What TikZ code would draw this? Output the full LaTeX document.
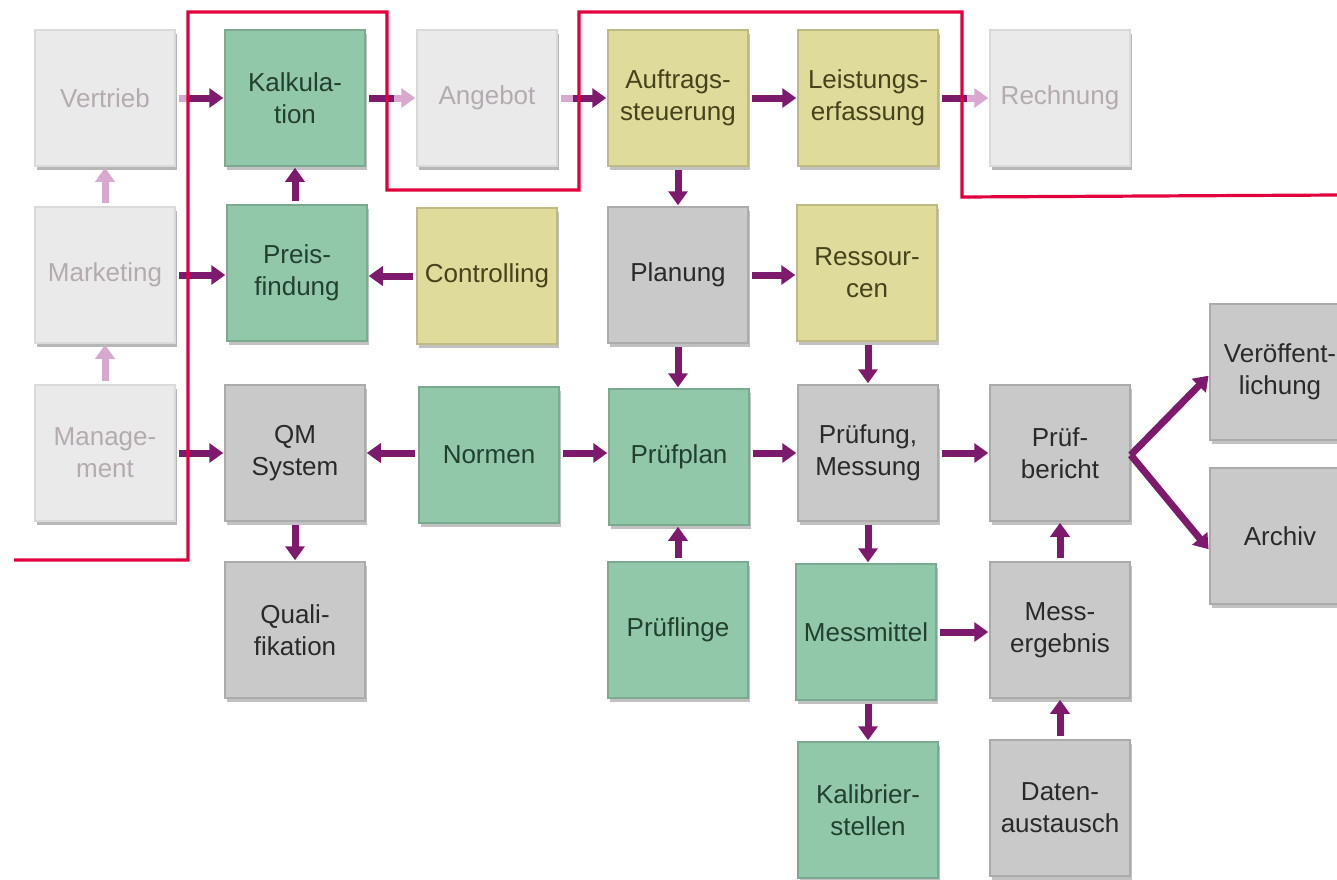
\documentclass[tikz,border=0pt]{standalone}
\usepackage{fontspec}
\setmainfont{Liberation Sans}
\usetikzlibrary{arrows.meta,shadows,calc}
\definecolor{fadefill}{HTML}{EAEAEA}
\definecolor{fadetext}{HTML}{B4ABB1}
\definecolor{greenfill}{HTML}{92C8AA}
\definecolor{greentext}{HTML}{22402E}
\definecolor{yelfill}{HTML}{DEDB9B}
\definecolor{yeltext}{HTML}{48421C}
\definecolor{greyfill}{HTML}{C9C9C9}
\definecolor{greytext}{HTML}{2A2A2A}
\definecolor{arrowc}{HTML}{7E1A6E}
\definecolor{arrowfade}{HTML}{D8A8CE}
\definecolor{redline}{HTML}{E2003C}
\tikzset{
  box/.style={rectangle, minimum width=140pt, minimum height=136pt, inner sep=0pt,
    align=center, font=\fontsize{26}{32}\selectfont, line width=1.5pt,
    drop shadow={shadow xshift=1.5pt, shadow yshift=-4pt, opacity=0.35, fill=black!70}},
  fadebox/.style={box, fill=fadefill, draw=fadefill!93!black, text=fadetext, drop shadow={shadow xshift=1.5pt, shadow yshift=-4pt, opacity=0.15, fill=black!50}},
  greenbox/.style={box, fill=greenfill, draw=greenfill!85!black, text=greentext},
  yelbox/.style={box, fill=yelfill, draw=yelfill!85!black, text=yeltext},
  greybox/.style={box, fill=greyfill, draw=greyfill!85!black, text=greytext},
  arr/.style={draw=arrowc, line width=7pt, -{Triangle[length=14pt,width=19pt]}, shorten <=3pt, shorten >=1pt},
  farr/.style={draw=arrowfade, line width=7pt, -{Triangle[length=14pt,width=19pt]}, shorten <=3pt, shorten >=1pt},
  dline/.style={draw=arrowc, line width=7pt, shorten <=3pt},
  fline/.style={draw=arrowfade, line width=7pt, shorten <=3pt},
  redl/.style={draw=redline, line width=3.2pt}
}
\begin{document}
\begin{tikzpicture}[x=1pt,y=-1pt]
\useasboundingbox (0,0) rectangle (1337,879);
\begin{scope}
\clip (0,0) rectangle (1337,879);
% row 1
\node[fadebox]  (vert) at (105,98) {Vertrieb};
\node[greenbox] (kalk) at (295,98) {Kalkula-\\tion};
\node[fadebox]  (ang)  at (487,98) {Angebot};
\node[yelbox]   (auf)  at (678,98) {Auftrags-\\steuerung};
\node[yelbox]   (lei)  at (868,98) {Leistungs-\\erfassung};
\node[fadebox]  (rech) at (1060,98) {Rechnung};
% row 2
\node[fadebox]  (mark) at (105,275) {Marketing};
\node[greenbox] (preis) at (297,273) {Preis-\\findung};
\node[yelbox]   (cont) at (487,276) {Controlling};
\node[greybox]  (plan) at (678,275) {Planung};
\node[yelbox]   (ress) at (867,273) {Ressour-\\cen};
% row 3
\node[fadebox]  (mgmt) at (105,453) {Manage-\\ment};
\node[greybox]  (qm)   at (295,453) {QM\\System};
\node[greenbox] (norm) at (489,455) {Normen};
\node[greenbox] (pplan) at (679,457) {Prüfplan};
\node[greybox]  (pruef) at (868,453) {Prüfung,\\Messung};
\node[greybox]  (pber) at (1060,453) {Prüf-\\bericht};
% col 7
\node[greybox]  (veroe) at (1280,372) {Veröffent-\\lichung};
\node[greybox]  (arch) at (1280,536) {Archiv};
% row 4
\node[greybox]  (quali) at (295,630) {Quali-\\fikation};
\node[greenbox] (pling) at (678,630) {Prüflinge};
\node[greenbox] (mess) at (866,632) {Messmittel};
\node[greybox]  (merg) at (1060,630) {Mess-\\ergebnis};
% row 5
\node[greenbox] (kalib) at (868,810) {Kalibrier-\\stellen};
\node[greybox]  (daten) at (1060,808) {Daten-\\austausch};

% arrows
\coordinate (vk) at ($(vert.east)!0.25!(kalk.west)$);
\draw[fline] (vert.east) -- (vk);
\draw[arr, shorten <=0pt] (vk) -- (kalk.west);
\coordinate (ka) at ($(kalk.east)!0.55!(ang.west)$);
\draw[dline] (kalk.east) -- (ka);
\draw[farr, shorten <=0pt] (ka) -- (ang.west);
\coordinate (aa) at ($(ang.east)!0.3!(auf.west)$);
\draw[fline] (ang.east) -- (aa);
\draw[arr, shorten <=0pt] (aa) -- (auf.west);
\draw[arr] (auf.east) -- (lei.west);
\coordinate (lr) at ($(lei.east)!0.55!(rech.west)$);
\draw[dline] (lei.east) -- (lr);
\draw[farr, shorten <=0pt] (lr) -- (rech.west);

\draw[farr] (mark.north) -- (vert.south);
\draw[farr] (mgmt.north) -- (mark.south);
\draw[arr] (preis.north -| kalk.south) -- (kalk.south);
\draw[arr] (mark.east) -- (mark.east -| preis.west);
\draw[arr] (cont.west) -- (cont.west -| preis.east);
\draw[arr] (auf.south) -- (plan.north);
\draw[arr] (plan.east) -- (plan.east -| ress.west);
\draw[arr] (plan.south) -- (plan.south |- pplan.north);
\draw[arr] (ress.south -| pruef.north) -- (pruef.north);
\draw[arr] (mgmt.east) -- (qm.west);
\draw[arr] (norm.west |- qm.east) -- (qm.east);
\draw[arr] (norm.east |- qm.east) -- (pplan.west |- qm.east);
\draw[arr] (pplan.east |- pruef.east) -- (pruef.west);
\draw[arr] (pruef.east) -- (pber.west);
\coordinate (pb) at ($(pber.east)+(0,2)$);
\draw[arr, shorten <=0pt] (pb) -- ($(veroe.west)+(0,3)$);
\draw[arr, shorten <=0pt] (pb) -- ($(arch.west)+(0,14)$);
\draw[arr] (qm.south) -- (quali.north);
\draw[arr] (pling.north) -- (pling.north |- pplan.south);
\draw[arr] (pruef.south) -- (pruef.south |- mess.north);
\draw[arr] (mess.east) -- (mess.east -| merg.west);
\draw[arr] (merg.north) -- (pber.south);
\draw[arr] (mess.south -| kalib.north) -- (kalib.north);
\draw[arr] (daten.north) -- (merg.south);

% red boundary
\draw[redl] (14,560) -- (188,560) -- (188,12) -- (387,12) -- (387,190) -- (579,190) -- (579,12) -- (962,12) -- (962,197) -- (1337,195);
\end{scope}
\end{tikzpicture}
\end{document}
